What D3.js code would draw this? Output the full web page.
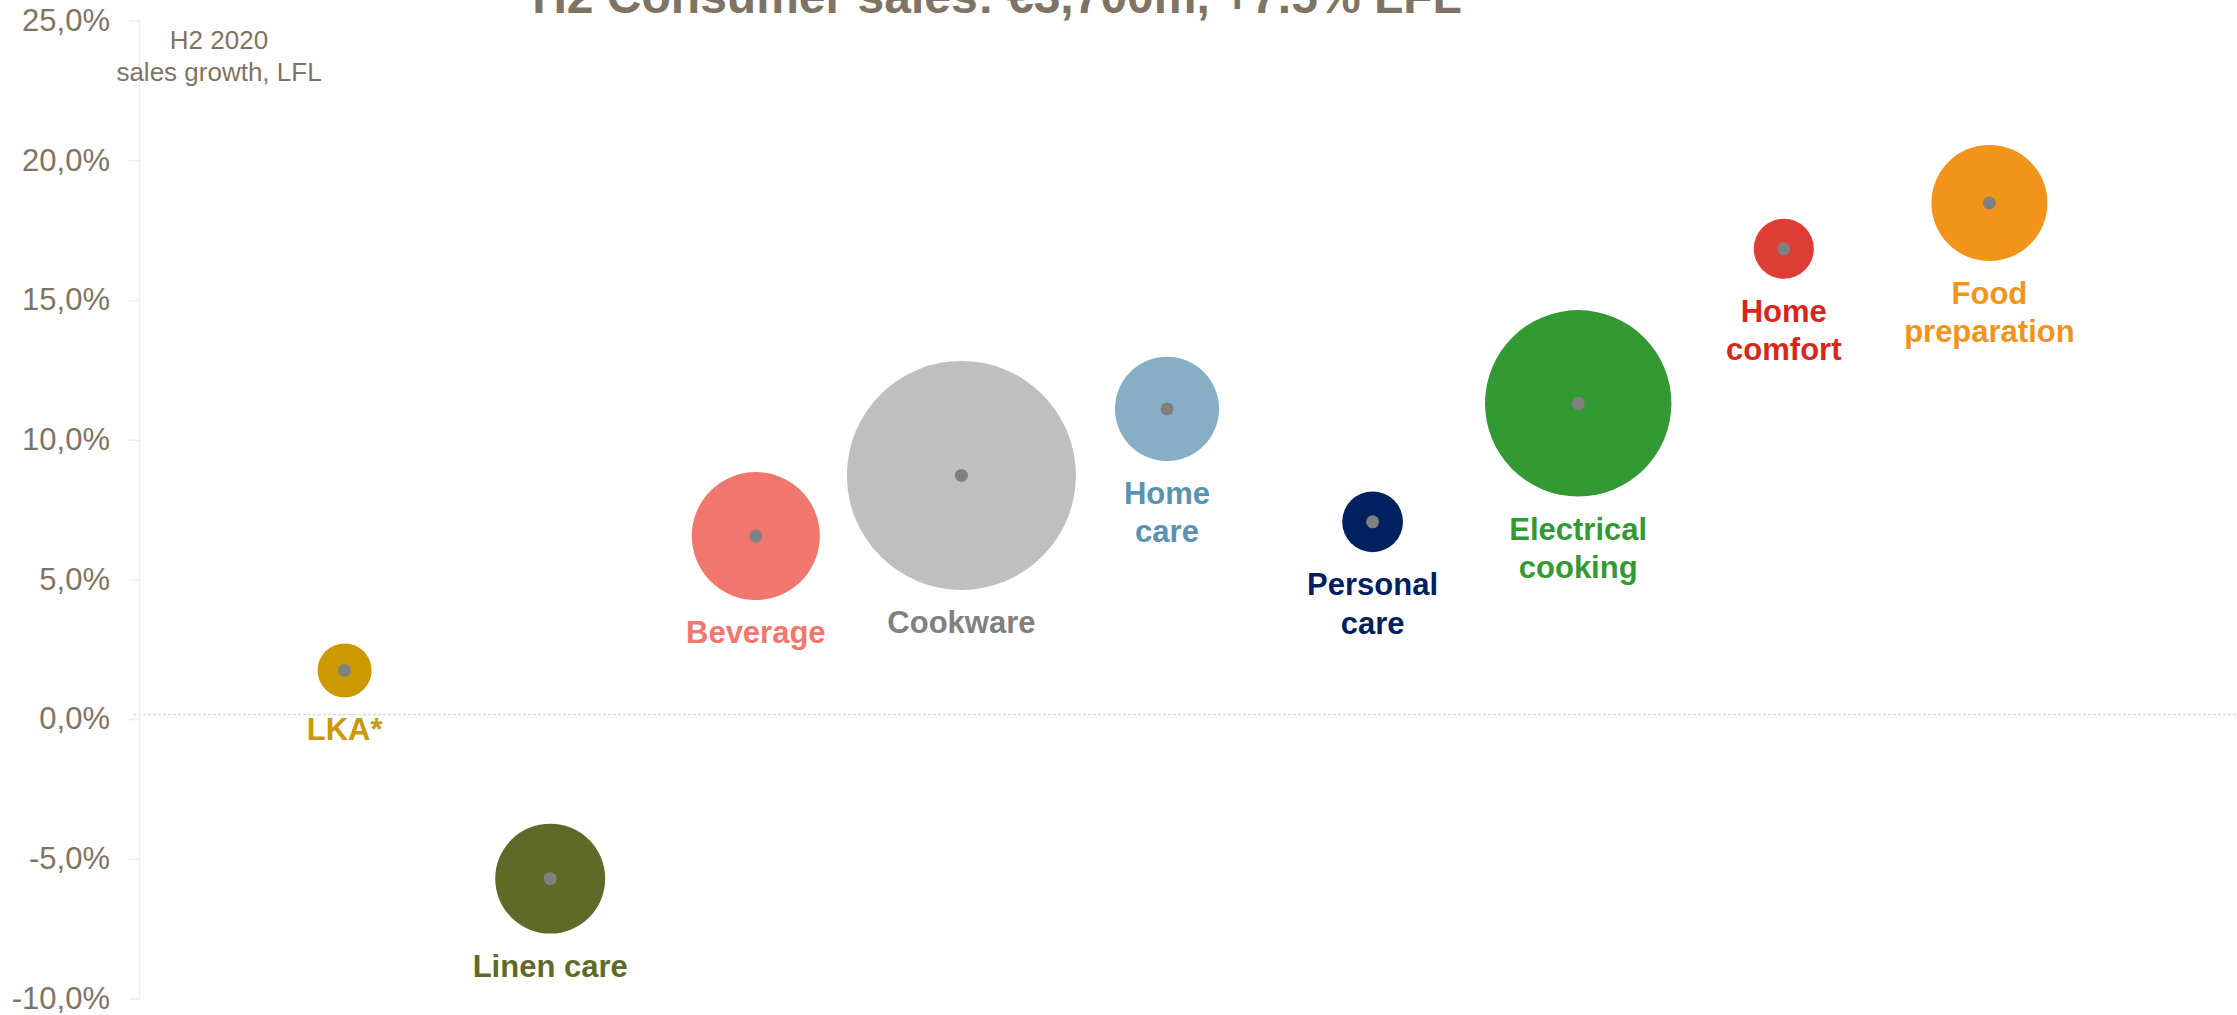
<!DOCTYPE html>
<html>
<head>
<meta charset="utf-8">
<script src="https://cdn.jsdelivr.net/npm/d3@7"></script>
<style>
  html, body { margin: 0; padding: 0; background: #fff; }
  svg { display: block; font-family: "Liberation Sans", Arial, sans-serif; }
</style>
</head>
<body>
<script>
// ---- Data ----
const categories = ["LKA*", "Linen care", "Beverage", "Cookware", "Home care", "Personal care", "Electrical cooking", "Home comfort", "Food preparation"];
const labelLines = [["LKA*"], ["Linen care"], ["Beverage"], ["Cookware"], ["Home", "care"], ["Personal", "care"], ["Electrical", "cooking"], ["Home", "comfort"], ["Food", "preparation"]];
const position = [1, 2, 3, 4, 5, 6, 7, 8, 9];
const growthLFL = [1.74, -5.71, 6.55, 8.72, 11.1, 7.06, 11.3, 16.83, 18.47];   // H2 2020 sales growth, LFL (%)
const salesM = [72, 298, 404, 1293, 267, 91, 857, 89, 332];                     // bubble size (€m, estimated)
const bubbleColors = ["#CC9900", "#5F6A28", "#F0766E", "#BFBFBF", "#87AEC4", "#002060", "#339933", "#DE3D35", "#F29419"];
const labelColors  = ["#CC9900", "#5F6A28", "#F0766E", "#808080", "#5A93B0", "#002060", "#339933", "#D9261C", "#F29419"];
const yTicks = [-10, -5, 0, 5, 10, 15, 20, 25];
const yTickLabels = ["-10,0%", "-5,0%", "0,0%", "5,0%", "10,0%", "15,0%", "20,0%", "25,0%"];
const titleText = "H2 Consumer sales: €3,700m, +7.5% LFL";
const axisNote = ["H2 2020", "sales growth, LFL"];

// ---- Layout ----
const W = 2237, H = 1015;
const textColor = "#7F7464";

const svg = d3.select("body").append("svg").attr("width", W).attr("height", H);

const x = d3.scaleLinear().domain([0, 10]).range([139, 2195]);
const y = d3.scaleLinear().domain([-10, 25]).range([998.5, 20.5]);
const r = d3.scaleSqrt().domain([0, d3.max(salesM)]).range([0, 114.5]);

// Zero line (dotted)
svg.append("line")
  .attr("x1", x(0) - 6).attr("x2", W)
  .attr("y1", y(0) - 4.5).attr("y2", y(0) - 4.5)
  .attr("stroke", "#DADADA").attr("stroke-width", 1.5)
  .attr("stroke-dasharray", "3,2");

// Y axis
const yAxis = svg.append("g")
  .attr("transform", `translate(${x(0)},0)`)
  .call(d3.axisLeft(y).tickValues(yTicks).tickSize(10).tickPadding(19)
    .tickFormat((d, i) => yTickLabels[i]));
yAxis.select(".domain").attr("stroke", "#EEEEEE").attr("stroke-width", 1.5);
yAxis.selectAll(".tick line").attr("stroke", "#EEEEEE").attr("stroke-width", 1.5);
yAxis.selectAll(".tick text")
  .attr("fill", textColor)
  .style("font-family", '"Liberation Sans", Arial, sans-serif')
  .style("font-size", "31px");

// Axis note
svg.append("text")
  .attr("x", 219).attr("y", 49)
  .attr("text-anchor", "middle")
  .attr("fill", textColor).style("font-size", "26px")
  .selectAll("tspan").data(axisNote).join("tspan")
  .attr("x", 219).attr("dy", (d, i) => i === 0 ? 0 : 32)
  .text(d => d);

// Title (cut off at top, as in the reference)
svg.append("text")
  .attr("x", 997).attr("y", 13)
  .attr("text-anchor", "middle")
  .attr("fill", textColor)
  .style("font-size", "48px").style("font-weight", "bold")
  .text(titleText);

// Bubbles
const data = categories.map((c, i) => ({
  name: c, lines: labelLines[i], xv: position[i], yv: growthLFL[i], s: salesM[i],
  fill: bubbleColors[i], lc: labelColors[i]
}));

const g = svg.append("g");
g.selectAll("circle.bubble").data(data).join("circle")
  .attr("class", "bubble")
  .attr("cx", d => x(d.xv)).attr("cy", d => y(d.yv))
  .attr("r", d => r(d.s))
  .attr("fill", d => d.fill);

g.selectAll("circle.dot").data(data).join("circle")
  .attr("class", "dot")
  .attr("cx", d => x(d.xv)).attr("cy", d => y(d.yv))
  .attr("r", 6.5)
  .attr("fill", "#808080");

// Labels
const labels = g.selectAll("text.lbl").data(data).join("text")
  .attr("class", "lbl")
  .attr("text-anchor", "middle")
  .attr("fill", d => d.lc)
  .style("font-size", "31px").style("font-weight", "bold")
  .attr("x", d => x(d.xv))
  .attr("y", d => y(d.yv) + r(d.s) + 43);
labels.selectAll("tspan").data(d => d.lines.map(l => ({ l, xx: x(d.xv) }))).join("tspan")
  .attr("x", t => t.xx)
  .attr("dy", (t, i) => i === 0 ? 0 : 38.4)
  .text(t => t.l);
</script>
</body>
</html>
